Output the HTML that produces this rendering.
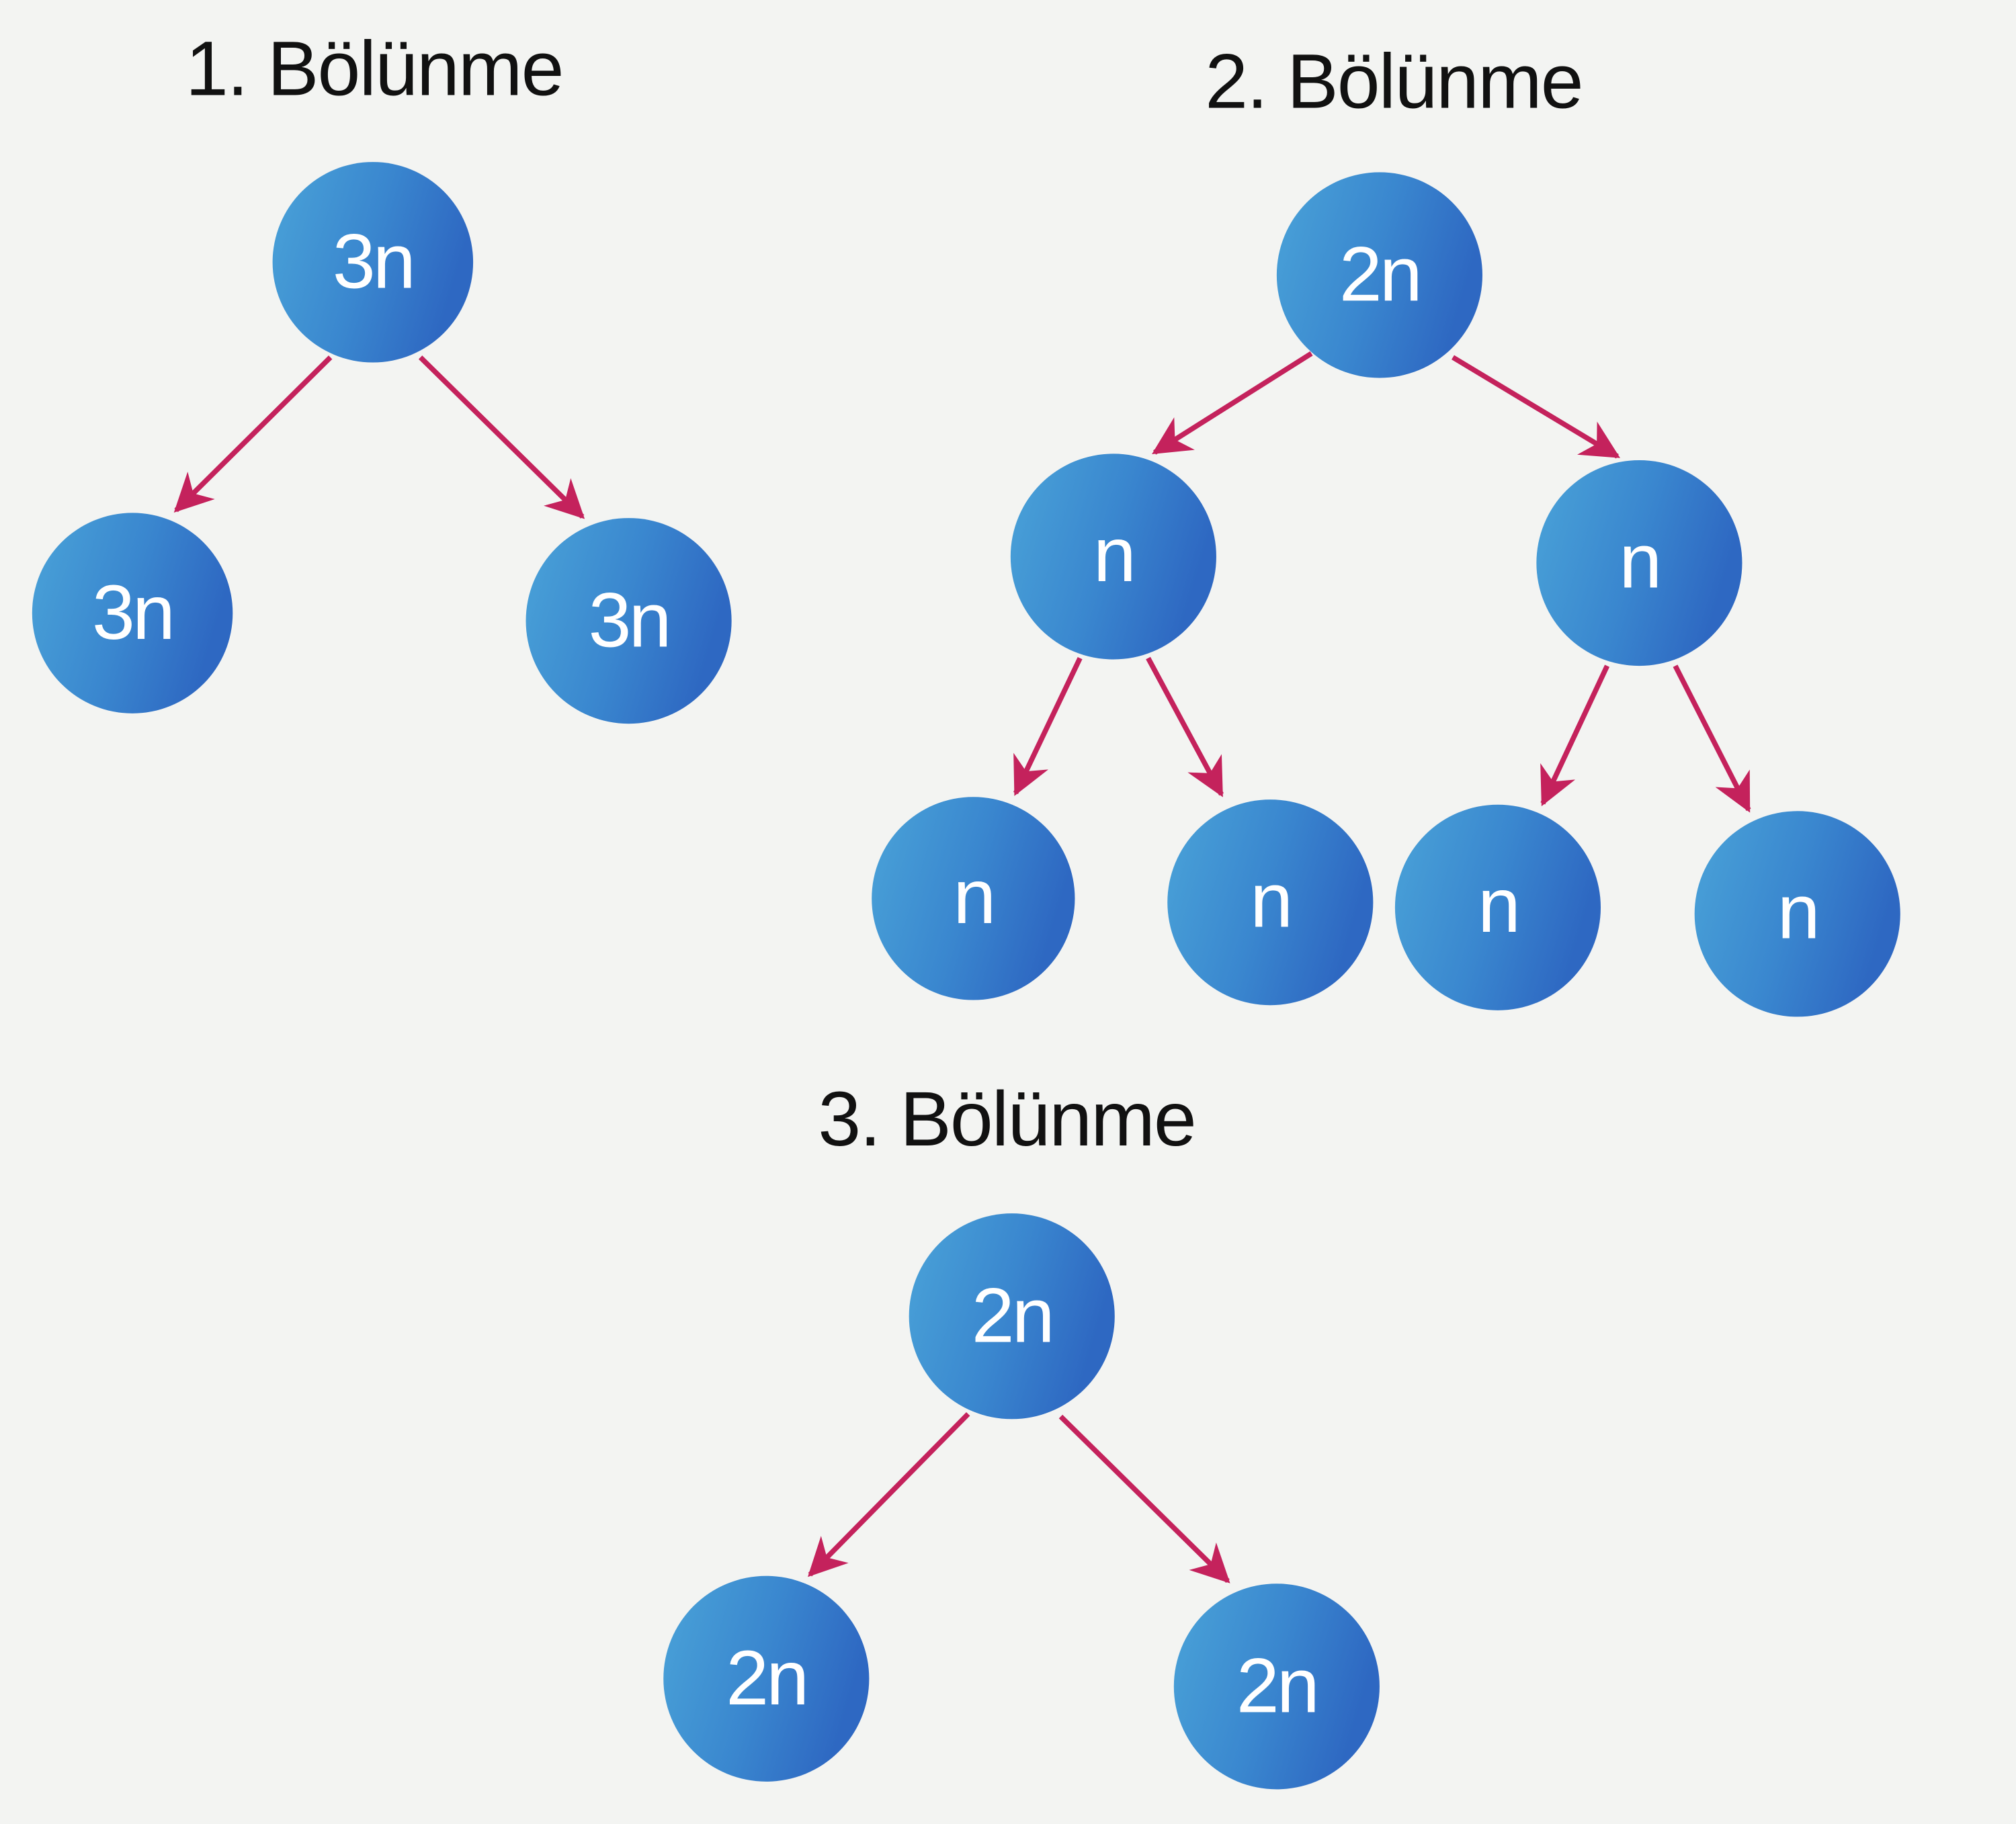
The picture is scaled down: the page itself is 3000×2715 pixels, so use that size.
<!DOCTYPE html>
<html><head><meta charset="utf-8"><style>
html,body{margin:0;padding:0;background:#f3f4f2;}
svg{display:block;}
</style></head><body>
<svg width="3000" height="2715" viewBox="0 0 1568 1419" preserveAspectRatio="none" xmlns="http://www.w3.org/2000/svg">
<defs>
<linearGradient id="g" x1="0" y1="0" x2="1" y2="0.3">
<stop offset="0" stop-color="#4aa3d8"/>
<stop offset="0.55" stop-color="#3a87cf"/>
<stop offset="1" stop-color="#2e68c2"/>
</linearGradient>
<marker id="ah" viewBox="0 0 12 12" refX="11" refY="6" markerWidth="30" markerHeight="30" markerUnits="userSpaceOnUse" orient="auto">
<path d="M0,0 L12,6 L0,12 L3.5,6 z" fill="#c4225c"/>
</marker>
</defs>
<rect width="1568" height="1419" fill="#f3f4f2"/>
<g font-family="Liberation Sans, Arial, sans-serif" font-size="60" fill="#111" letter-spacing="-1">
<text x="291" y="74" text-anchor="middle">1. Bölünme</text>
<text x="1084" y="84" text-anchor="middle">2. Bölünme</text>
<text x="783" y="891" text-anchor="middle">3. Bölünme</text>
</g>
<g stroke="#c4225c" stroke-width="4" fill="none" marker-end="url(#ah)">
<line x1="257" y1="278" x2="137" y2="397"/>
<line x1="327" y1="278" x2="453" y2="402"/>
<line x1="1020" y1="275" x2="898" y2="352"/>
<line x1="1130" y1="278" x2="1258" y2="355"/>
<line x1="840" y1="512" x2="790" y2="617"/>
<line x1="893" y1="512" x2="950" y2="618"/>
<line x1="1250" y1="518" x2="1200" y2="625"/>
<line x1="1303" y1="518" x2="1360" y2="630"/>
<line x1="753" y1="1100" x2="630" y2="1225"/>
<line x1="825" y1="1102" x2="955" y2="1230"/>
</g>
<g fill="url(#g)">
<circle cx="290" cy="204" r="78"/>
<circle cx="103" cy="477" r="78"/>
<circle cx="489" cy="483" r="80"/>
<circle cx="1073" cy="214" r="80"/>
<circle cx="866" cy="433" r="80"/>
<circle cx="1275" cy="438" r="80"/>
<circle cx="757" cy="699" r="79"/>
<circle cx="988" cy="702" r="80"/>
<circle cx="1165" cy="706" r="80"/>
<circle cx="1398" cy="711" r="80"/>
<circle cx="787" cy="1024" r="80"/>
<circle cx="596" cy="1306" r="80"/>
<circle cx="993" cy="1312" r="80"/>
</g>
<g font-family="Liberation Sans, Arial, sans-serif" font-size="60" fill="#fff" text-anchor="middle" letter-spacing="-2">
<text x="290" y="224">3n</text>
<text x="103" y="497">3n</text>
<text x="489" y="503">3n</text>
<text x="1073" y="234">2n</text>
<text x="866" y="452">n</text>
<text x="1275" y="457">n</text>
<text x="757" y="718">n</text>
<text x="988" y="721">n</text>
<text x="1165" y="725">n</text>
<text x="1398" y="730">n</text>
<text x="787" y="1044">2n</text>
<text x="596" y="1326">2n</text>
<text x="993" y="1332">2n</text>
</g>
</svg>
</body></html>
